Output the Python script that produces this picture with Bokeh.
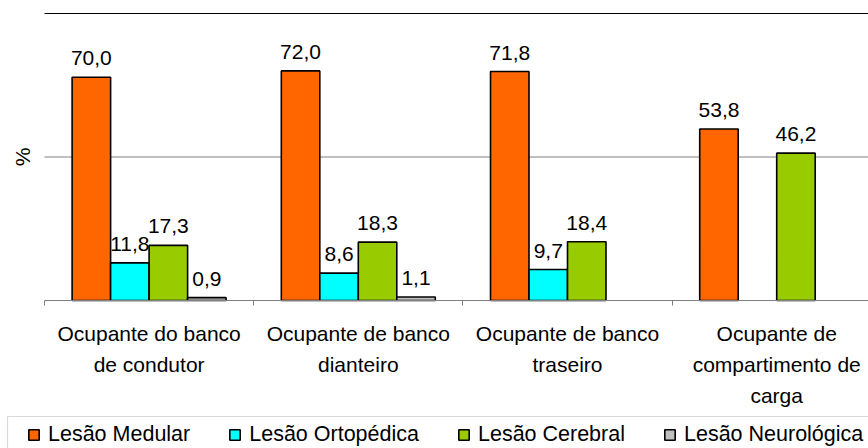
import numpy as np
from bokeh.plotting import figure
from bokeh.models import (FixedTicker, Range1d, BoxAnnotation, ColumnDataSource,
                          LinearAxis, Label)
from bokeh.core.properties import value
from bokeh.embed import file_html
from bokeh.resources import INLINE

# Injury type share (%) by vehicle occupant position
categories = [
    "Ocupante do banco\nde condutor",
    "Ocupante de banco\ndianteiro",
    "Ocupante de banco\ntraseiro",
    "Ocupante de\ncompartimento de\ncarga",
]
series_names = ["Lesão Medular", "Lesão Ortopédica", "Lesão Cerebral", "Lesão Neurológica"]
lesao_medular = [70.0, 72.0, 71.8, 53.8]
lesao_ortopedica = [11.8, 8.6, 9.7, None]
lesao_cerebral = [17.3, 18.3, 18.4, 46.2]
lesao_neurologica = [0.9, 1.1, None, None]
y_ticks = [0, 45, 90]

colors = ["#FF6600", "#00FFFF", "#99CC00", "#C0C0C0"]
FONT = "Liberation Sans"
FS = "21px"

# page geometry (pixels)
W, H = 868, 448
plot_left, plot_top, plot_bottom = 44, 13, 300
cat_px = 209.2                       # width of one category slot
y_max = y_ticks[-1]
px_per_unit = (plot_bottom - plot_top) / y_max

x_range = Range1d(-plot_left / cat_px, (W - plot_left) / cat_px)
y_range = Range1d(-(H - plot_bottom) / px_per_unit, y_max + plot_top / px_per_unit)

p = figure(
    width=W, height=H, output_backend="svg", toolbar_location=None,
    x_range=x_range, y_range=y_range, x_axis_type=None, y_axis_type=None,
    min_border=0,
)
p.outline_line_color = None
p.background_fill_color = "white"
p.border_fill_color = "white"
p.xgrid.visible = False
p.ygrid.visible = False

n = len(categories)
centers = np.arange(n) + 0.5

# horizontal gridlines above the baseline
grid_y = y_ticks[1:]
p.segment(x0=0, x1=n, y0=grid_y, y1=grid_y,
          line_color=["#808080"] * (len(grid_y) - 1) + ["black"], line_width=1)

bar_w = 0.184
offsets = (np.arange(4) - 1.5) * bar_w

all_series = [lesao_medular, lesao_ortopedica, lesao_cerebral, lesao_neurologica]
for i, (name, vals) in enumerate(zip(series_names, all_series)):
    v = np.array([np.nan if a is None else a for a in vals], dtype=float)
    x = centers + offsets[i]
    src = ColumnDataSource(dict(x=x, top=v))
    p.vbar(x="x", top="top", bottom=0, width=bar_w, source=src,
           fill_color=colors[i], line_color="black", line_width=1.6,
           legend_label=name)
    mask = ~np.isnan(v)
    labels = [f"{a:.1f}".replace(".", ",") for a in v[mask]]
    p.text(x=x[mask], y=v[mask], text=labels, text_font=value(FONT),
           text_font_size=FS, text_align="center", text_baseline="alphabetic",
           y_offset=-19, text_color="black")

# category axis on the zero line: labels at slot centres, ticks at slot edges
xa = LinearAxis(fixed_location=0, bounds=(0, n))
xa.ticker = FixedTicker(ticks=list(centers), minor_ticks=list(range(n + 1)))
xa.major_label_overrides = {float(c): lab for c, lab in zip(centers, categories)}
xa.major_tick_line_color = None
xa.major_tick_out = 0
xa.major_tick_in = 0
xa.minor_tick_line_color = "#808080"
xa.minor_tick_out = 5
xa.minor_tick_in = 0
xa.axis_line_color = "#808080"
xa.major_label_standoff = 16
xa.major_label_text_font = FONT
xa.major_label_text_font_size = FS
xa.major_label_text_line_height = 1.36
xa.major_label_text_color = "black"
p.add_layout(xa, "below")

# value axis title
p.add_layout(Label(x=x_range.start / 2, y=y_max / 2, text="%", angle=np.pi / 2,
                   text_align="center", text_baseline="middle",
                   text_font=FONT, text_font_size=FS, text_color="black"))

# legend strip along the bottom
lg = p.legend[0]
lg.orientation = "horizontal"
lg.location = (23, -3)
lg.padding = 4
lg.spacing = 38
lg.label_standoff = 8
lg.glyph_width = 13
lg.glyph_height = 13
lg.label_text_font = FONT
lg.label_text_font_size = "21.5px"
lg.label_text_color = "black"
lg.border_line_alpha = 0
lg.background_fill_alpha = 0

p.add_layout(BoxAnnotation(left=7, right=W + 20, top=416, bottom=H + 20,
                           left_units="canvas", right_units="canvas",
                           top_units="canvas", bottom_units="canvas",
                           fill_alpha=0, line_color="#808080", line_width=1.2))

open("out.html", "w").write(file_html(p, INLINE))
